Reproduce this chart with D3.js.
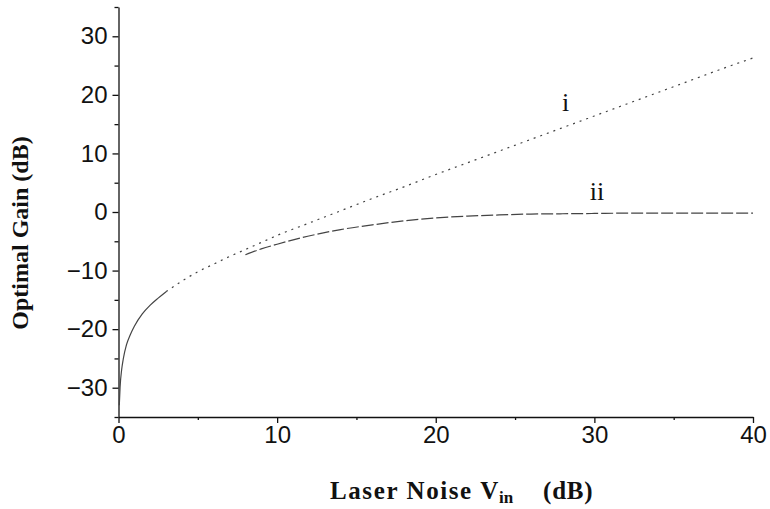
<!DOCTYPE html>
<html>
<head>
<meta charset="utf-8">
<script src="https://cdn.jsdelivr.net/npm/d3@7"></script>
<style>
  html, body { margin: 0; padding: 0; background: #fff; }
  svg { display: block; }
  .tick text { font-family: "Liberation Sans", Arial, sans-serif; font-size: 24px; fill: #111; }
  .axis path, .axis line { stroke: #111; stroke-width: 1.3; }
  .title { font-family: "Liberation Serif", "Times New Roman", serif; font-weight: bold; fill: #111; }
  .curve-label { font-family: "Liberation Serif", "Times New Roman", serif; font-size: 26px; fill: #111; }
</style>
</head>
<body>
<svg id="chart" width="770" height="509"></svg>
<script>
// Laser noise at the input (dB)
const noiseIn = [0.05, 0.1, 0.2, 0.3, 0.5, 0.75, 1, 1.5, 2, 2.5, 3, 4, 5, 6, 7, 8, 9, 10,
                 12, 14, 16, 18, 20, 22, 24, 26, 28, 30, 32, 34, 36, 38, 40];
// Optimal gain, case i (dB)
const gainI = [-33.0, -29.9, -26.9, -25.1, -22.7, -20.9, -19.5, -17.4, -15.9, -14.7, -13.6,
               -11.8, -10.2, -8.9, -7.6, -6.4, -5.2, -4.0, -1.9, 0.2, 2.3, 4.3, 6.4, 8.4,
               10.4, 12.4, 14.4, 16.4, 18.4, 20.4, 22.4, 24.4, 26.3];
// Optimal gain, case ii (dB)
const gainII = [-33.0, -29.9, -26.9, -25.1, -22.7, -20.9, -19.5, -17.5, -16.0, -14.8, -13.8,
                -12.1, -10.6, -9.4, -8.3, -7.3, -6.3, -5.5, -4.1, -3.0, -2.2, -1.5, -1.0, -0.7,
                -0.5, -0.35, -0.3, -0.25, -0.2, -0.2, -0.2, -0.2, -0.2];

const xMajor = [0, 10, 20, 30, 40];
const xMinor = [5, 15, 25, 35];
const yMajor = [-30, -20, -10, 0, 10, 20, 30];
const yMinor = [-35, -25, -15, -5, 5, 15, 25, 35];

const svg = d3.select("#chart");
const x = d3.scaleLinear().domain([0, 40]).range([118.5, 753]);
const y = d3.scaleLinear().domain([-35, 35]).range([417, 7]);

// minor ticks
svg.append("g").attr("class", "axis")
  .attr("transform", `translate(0,${y(-35)})`)
  .call(d3.axisBottom(x).tickValues(xMinor).tickSize(3).tickSizeOuter(0).tickFormat(""))
  .call(g => g.select(".domain").remove());
svg.append("g").attr("class", "axis")
  .attr("transform", `translate(${x(0)},0)`)
  .call(d3.axisLeft(y).tickValues(yMinor).tickSize(4).tickSizeOuter(0).tickFormat(""))
  .call(g => g.select(".domain").remove());

// major axes
svg.append("g").attr("class", "axis")
  .attr("transform", `translate(0,${y(-35)})`)
  .call(d3.axisBottom(x).tickValues(xMajor).tickSize(6).tickPadding(3).tickSizeOuter(0).tickFormat(d3.format("d")));
svg.append("g").attr("class", "axis")
  .attr("transform", `translate(${x(0)},0)`)
  .call(d3.axisLeft(y).tickValues(yMajor).tickSize(6).tickPadding(5).tickSizeOuter(0).tickFormat(d3.format("d")));

// curves
const pts = (ys) => noiseIn.map((v, i) => [v, ys[i]]);
const line = d3.line().x(d => x(d[0])).y(d => y(d[1])).curve(d3.curveMonotoneX);
const curves = svg.append("g").attr("fill", "none").attr("stroke", "#444").attr("stroke-width", 1.2);

// shared low-noise part, solid
curves.append("path").attr("d", line(pts(gainI).filter(d => d[0] <= 3)));
// case i, dotted
curves.append("path").attr("d", line(pts(gainI).filter(d => d[0] >= 3)))
  .attr("stroke-dasharray", "2,5");
// case ii, dashed once it leaves case i
curves.append("path").attr("d", line(pts(gainII).filter(d => d[0] >= 8)))
  .attr("stroke-dasharray", "12,3");

// curve labels
svg.append("text").attr("class", "curve-label").attr("x", 565.5).attr("y", 111)
  .attr("text-anchor", "middle").text("i");
svg.append("text").attr("class", "curve-label").attr("x", 597).attr("y", 200)
  .attr("text-anchor", "middle").text("ii");

// axis titles
const xt = svg.append("text").attr("class", "title").attr("y", 499)
  .attr("font-size", 25);
xt.append("tspan").attr("x", 330).attr("letter-spacing", 1.6).text("Laser Noise V");
xt.append("tspan").attr("x", 499).attr("font-size", 17).attr("dy", 4).text("in");
xt.append("tspan").attr("x", 543).attr("dy", -4).attr("letter-spacing", 0.8).text("(dB)");

svg.append("text").attr("class", "title").attr("font-size", 24)
  .attr("text-anchor", "middle")
  .attr("transform", "translate(28,233) rotate(-90)")
  .text("Optimal Gain (dB)");
</script>
</body>
</html>
